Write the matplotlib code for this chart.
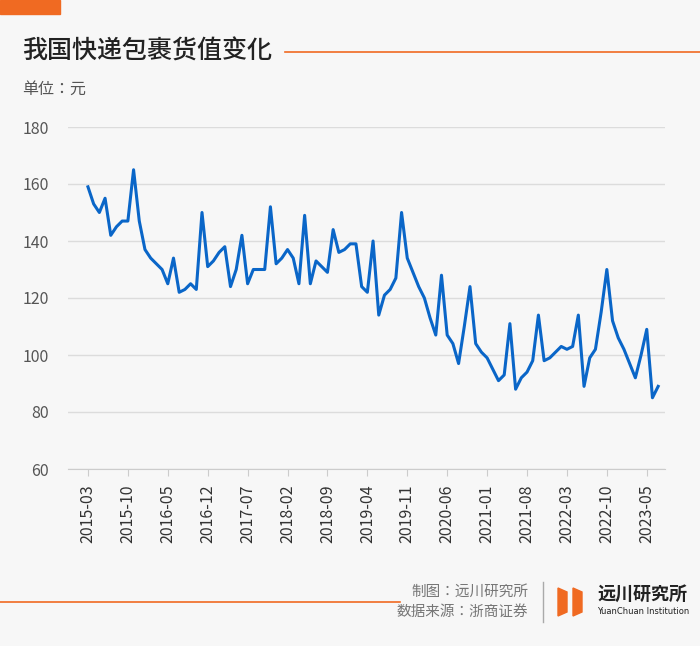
import matplotlib
matplotlib.use("Agg")
import matplotlib.pyplot as plt
from matplotlib import font_manager as fm
from matplotlib.patches import Polygon
import numpy as np

cjk = [f for f in fm.fontManager.ttflist if 'CJK' in f.name]
names = sorted(set(f.name for f in cjk))
pick = next((n for n in names if 'SC' in n), names[0] if names else 'DejaVu Sans')
plt.rcParams['font.family'] = [pick, 'DejaVu Sans']
plt.rcParams['font.sans-serif'] = [pick, 'DejaVu Sans']

values = [159,153,150,155,142,145,147,147,165,147,137,134,132,130,125,134,122,123,125,123,
          150,131,133,136,138,124,130,142,125,130,130,130,152,132,134,137,134,125,149,125,
          133,131,129,144,136,137,139,139,124,122,140,114,121,123,127,150,134,129,124,120,
          113,107,128,107,104,97,110,124,104,101,99,95,91,93,111,88,92,94,98,114,
          98,99,101,103,102,103,114,89,99,102,115,130,112,106,102,97,92,100,109,85,89]
tick_labels = ["2015-03","2015-10","2016-05","2016-12","2017-07","2018-02","2018-09",
               "2019-04","2019-11","2020-06","2021-01","2021-08","2022-03","2022-10","2023-05"]
yticks = [60,80,100,120,140,160,180]

W, H = 700, 646
bg = '#f7f7f7'
fig = plt.figure(figsize=(W/100, H/100), dpi=100, facecolor=bg)
ax = fig.add_axes([68/W, 1-469/H, (665-68)/W, (469-127)/H], facecolor=bg)

x = np.arange(len(values))
ax.plot(x, values, color='#0a66c8', lw=2.2, solid_joinstyle='round')
ax.set_ylim(60, 180)
ax.set_xlim(-3.5, 101.2)
ax.set_yticks(yticks)
ax.grid(axis='y', color='#dcdcdc', lw=1)
ax.set_axisbelow(True)
for s in ['top', 'right', 'left']:
    ax.spines[s].set_visible(False)
ax.spines['bottom'].set_color('#cccccc')
ax.tick_params(axis='y', length=0, labelsize=11.5, labelcolor='#555555', pad=14)
ax.set_xticks(np.arange(0, 99, 7))
ax.set_xticklabels(tick_labels, rotation=90, fontsize=11.5, color='#333333')
ax.tick_params(axis='x', length=5, color='#cccccc', pad=6)

fig.add_artist(plt.Rectangle((0, 1-14/H), 60/W, 14/H, color='#f06a22', transform=fig.transFigure))
fig.text(22/W, 1-52/H, '我国快递包裹货值变化', fontsize=18, color='#222222', va='center', weight='medium')
fig.add_artist(plt.Line2D([285/W, 1], [1-52/H]*2, color='#f06a22', lw=1.2))
fig.text(22/W, 1-89/H, '单位：元', fontsize=11.5, color='#555555', va='center')
fig.add_artist(plt.Line2D([0, 400/W], [1-602/H]*2, color='#f06a22', lw=1.2))
fig.text(528/W, 1-592/H, '制图：远川研究所', fontsize=10.5, color='#777777', va='center', ha='right')
fig.text(528/W, 1-612/H, '数据来源：浙商证券', fontsize=10.5, color='#777777', va='center', ha='right')
fig.add_artist(plt.Line2D([543/W]*2, [1-582/H, 1-622/H], color='#aaaaaa', lw=1))
for x0 in [558, 573]:
    pts = [(x0, 588), (x0+9, 592), (x0+9, 612), (x0, 616)]
    fig.add_artist(Polygon([(a/W, 1-b/H) for a, b in pts], closed=True, color='#f06a22', transform=fig.transFigure))
fig.text(597/W, 1-594/H, '远川研究所', fontsize=13, color='#222222', va='center', weight='bold')
fig.text(597/W, 1-611/H, 'YuanChuan Institution', fontsize=6, color='#222222', va='center',
         family='DejaVu Sans')

fig.savefig('out.png', dpi=100, facecolor=bg)
